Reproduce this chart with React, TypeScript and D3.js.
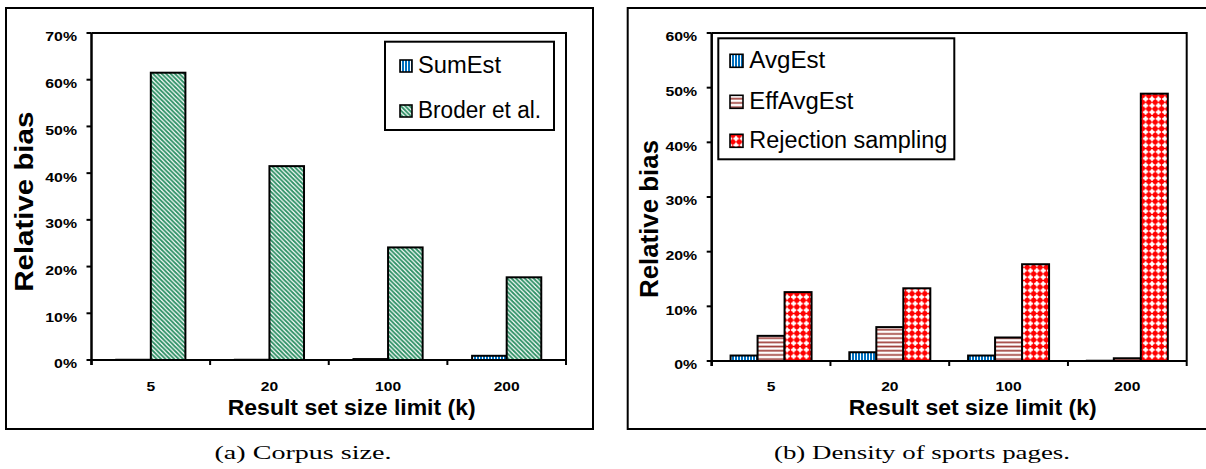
import React from 'react';
import * as d3 from 'd3';

const categories = ['5', '20', '100', '200'];

// (a) Corpus size
const sumEst = [0.05, 0.05, 0.2, 0.9];
const broder = [61.5, 41.5, 24.1, 17.7];
const ticksA = [0, 10, 20, 30, 40, 50, 60, 70];

// (b) Density of sports pages
const avgEst = [1.0, 1.6, 1.0, 0.05];
const effAvgEst = [4.6, 6.2, 4.3, 0.5];
const rejection = [12.6, 13.3, 17.7, 48.9];
const ticksB = [0, 10, 20, 30, 40, 50, 60];

const SANS = 'Liberation Sans, Arial, sans-serif';
const SERIF = 'Liberation Serif, DejaVu Serif, serif';

type Series = { name: string; values: number[]; fill: string };

const Panel = ({ frame, plot, series, ticks, padding, legend, yTitle, xTitle, caption }: any) => {
  const x = d3.scaleBand<string>()
    .domain(categories)
    .range([plot.x0, plot.x1])
    .paddingInner(padding)
    .paddingOuter(padding / 2);
  const inner = d3.scaleBand<string>()
    .domain(series.map((s: Series) => s.name))
    .range([0, x.bandwidth()]);
  const y = d3.scaleLinear()
    .domain([0, d3.max(ticks) as number])
    .range([plot.y1, plot.y0]);
  const step = x.step();
  const bounds = d3.range(categories.length + 1).map(i => plot.x0 + i * step);

  return (
    <g>
      {/* outer frame */}
      <rect x={frame.x0} y={frame.y0} width={frame.x1 - frame.x0} height={frame.y1 - frame.y0}
        fill="white" stroke="black" strokeWidth={2} />

      {/* plot border */}
      <path d={`M${plot.x0},${plot.y0}H${plot.x1}V${plot.y1}`} fill="none" stroke="black" strokeWidth={2} />

      {/* bars */}
      {series.map((s: Series) => s.values.map((v, i) => (
        <rect key={s.name + i}
          x={(x(categories[i]) as number) + (inner(s.name) as number)}
          y={y(v)}
          width={inner.bandwidth()}
          height={y(0) - y(v)}
          fill={s.fill} stroke="black" strokeWidth={2} />
      )))}

      {/* x axis */}
      <line x1={plot.x0} x2={plot.x1} y1={y(0)} y2={y(0)} stroke="black" strokeWidth={2} />
      {bounds.map((b, i) => (
        <line key={'xt' + i} x1={b} x2={b} y1={y(0)} y2={y(0) + 5} stroke="black" strokeWidth={2} />
      ))}
      {categories.map(c => (
        <text key={'xl' + c} transform={`translate(${(x(c) as number) + x.bandwidth() / 2},390.5) scale(1.25,1)`}
          textAnchor="middle" fontFamily={SANS} fontWeight="bold" fontSize={12.5}>{c}</text>
      ))}

      {/* y axis */}
      <line x1={plot.x0} x2={plot.x0} y1={plot.y0} y2={y(0) + 5} stroke="black" strokeWidth={2.5} />
      {ticks.map((t: number) => (
        <g key={'yt' + t}>
          <line x1={plot.x0 - 5} x2={plot.x0} y1={y(t)} y2={y(t)} stroke="black" strokeWidth={2} />
          <text transform={`translate(${plot.x0 - 14.5},${y(t) + 8.4}) scale(1.22,1)`}
            textAnchor="end" fontFamily={SANS} fontWeight="bold" fontSize={13}>{t + '%'}</text>
        </g>
      ))}

      {/* axis titles */}
      <text transform={`translate(${yTitle.x},${yTitle.y}) rotate(-90)`} textAnchor="middle"
        fontFamily={SANS} fontWeight="bold" fontSize={25}
        textLength={yTitle.len} lengthAdjust="spacingAndGlyphs">Relative bias</text>
      <text x={xTitle.x} y={414.5} textAnchor="middle" fontFamily={SANS} fontWeight="bold" fontSize={22.5}
        textLength={248} lengthAdjust="spacingAndGlyphs">Result set size limit (k)</text>

      {/* legend */}
      <rect x={legend.x0} y={legend.y0} width={legend.x1 - legend.x0} height={legend.y1 - legend.y0}
        fill="white" stroke="black" strokeWidth={2} />
      {series.map((s: Series, i: number) => (
        <g key={'lg' + s.name}>
          <rect x={legend.mx} y={legend.rows[i] - legend.ms - 1} width={legend.ms} height={legend.ms}
            fill={s.fill} stroke="black" strokeWidth={1.6} />
          <text x={legend.tx} y={legend.rows[i]} fontFamily={SANS} fontSize={23}
            textLength={legend.lens[i]} lengthAdjust="spacingAndGlyphs">{s.name}</text>
        </g>
      ))}

      {/* caption */}
      <text x={caption.x} y={459} textAnchor="middle" fontFamily={SERIF} fontSize={19}
        textLength={caption.len} lengthAdjust="spacingAndGlyphs">{caption.text}</text>
    </g>
  );
};

export default function App() {
  const seriesA: Series[] = [
    { name: 'SumEst', values: sumEst, fill: 'url(#vblue)' },
    { name: 'Broder et al.', values: broder, fill: 'url(#dgreen)' },
  ];
  const seriesB: Series[] = [
    { name: 'AvgEst', values: avgEst, fill: 'url(#vblue)' },
    { name: 'EffAvgEst', values: effAvgEst, fill: 'url(#hred)' },
    { name: 'Rejection sampling', values: rejection, fill: 'url(#dots)' },
  ];

  return (
    <svg width={1206} height={469} style={{ position: 'absolute', left: 0, top: 0, background: 'white' }}>
      <defs>
        <pattern id="vblue" patternUnits="userSpaceOnUse" width={3} height={3}>
          <rect width={3} height={3} fill="white" />
          <rect width={2} height={3} fill="#0070C0" />
        </pattern>
        <pattern id="dgreen" patternUnits="userSpaceOnUse" width={4.4} height={4.4}>
          <rect width={4.4} height={4.4} fill="white" />
          <path d="M-1,-1L5.4,5.4M-1,3.4L1,5.4M3.4,-1L5.4,1" stroke="#2E9065" strokeWidth={1.9} />
        </pattern>
        <pattern id="hred" patternUnits="userSpaceOnUse" width={4.2} height={4.2}>
          <rect width={4.2} height={4.2} fill="white" />
          <rect y={1.3} width={4.2} height={1.7} fill="#A0403C" />
        </pattern>
        <pattern id="dots" patternUnits="userSpaceOnUse" width={6.4} height={6.6}>
          <rect width={6.4} height={6.6} fill="white" />
          <circle cx={3.2} cy={3.3} r={2.6} fill="#FF0000" />
          <rect x={0} y={2.7} width={6.4} height={1.2} fill="#FF0000" />
          <rect x={2.6} y={0} width={1.2} height={6.6} fill="#FF0000" />
        </pattern>
      </defs>

      <Panel
        frame={{ x0: 6, y0: 8, x1: 593, y1: 429 }}
        plot={{ x0: 91.5, y0: 33, x1: 566, y1: 360 }}
        series={seriesA}
        ticks={ticksA}
        padding={0.417}
        legend={{ x0: 385, y0: 41.7, x1: 554, y1: 130, mx: 400, ms: 12, tx: 418, rows: [73, 118], lens: [83, 123] }}
        yTitle={{ x: 33, y: 201.7, len: 180 }}
        xTitle={{ x: 351.7 }}
        caption={{ x: 303, text: '(a) Corpus size.', len: 177 }}
      />
      <Panel
        frame={{ x0: 627.7, y0: 8, x1: 1212, y1: 429 }}
        plot={{ x0: 711.7, y0: 33, x1: 1186.7, y1: 361 }}
        series={seriesB}
        ticks={ticksB}
        padding={0.318}
        legend={{ x0: 718.3, y0: 38.3, x1: 954.3, y1: 159.3, mx: 730, ms: 13, tx: 749.3, rows: [68.3, 109.3, 148.3], lens: [76, 104, 198] }}
        yTitle={{ x: 658, y: 219, len: 158 }}
        xTitle={{ x: 972.7 }}
        caption={{ x: 922, text: '(b) Density of sports pages.', len: 296 }}
      />
    </svg>
  );
}
